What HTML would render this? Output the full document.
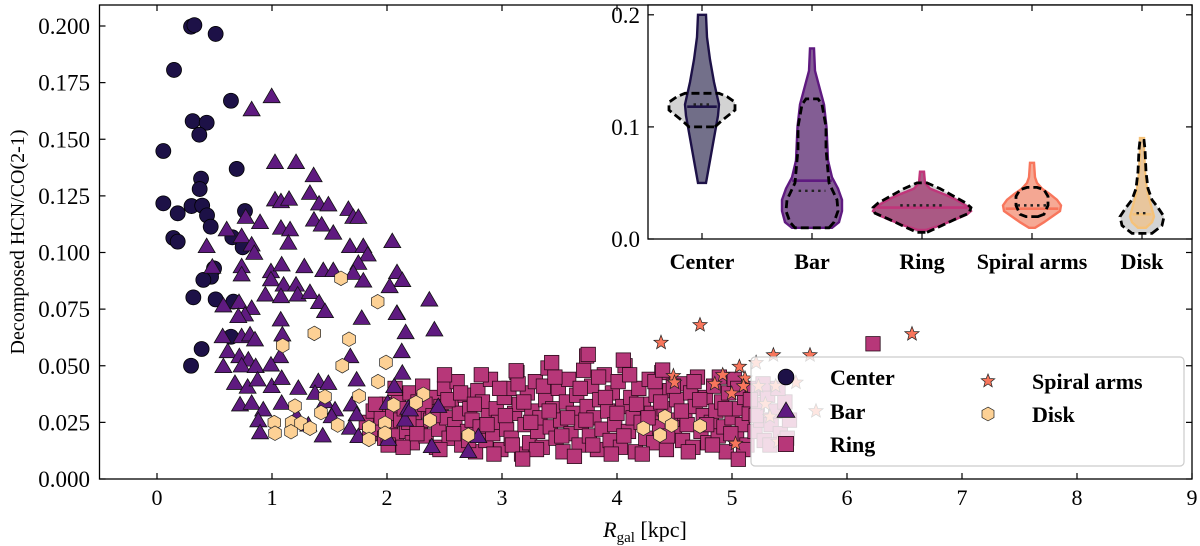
<!DOCTYPE html>
<html><head><meta charset="utf-8"><style>
html,body{margin:0;padding:0;background:#fff;}
svg{display:block;}
text{font-family:"Liberation Serif",serif;fill:#000;}
</style></head><body>
<svg id="chart" width="1200" height="546" viewBox="0 0 1200 546" xmlns="http://www.w3.org/2000/svg">
<g id="main"></g>
<g id="inset"></g>
<g id="legend"></g>
</svg>
<script>
// ---- main scatter data ----
const centerX=[0.296,0.325,0.51,0.148,0.643,0.31,0.432,0.368,0.055,0.693,0.383,0.371,0.055,0.30,0.393,0.435,0.18,0.765,0.467,0.142,0.18,0.655,0.745,0.496,0.47,0.403,0.316,0.51,0.664,0.643,0.388,0.296];
const centerY=[0.1997,0.2004,0.1965,0.1806,0.167,0.158,0.1573,0.152,0.1448,0.1369,0.1326,0.128,0.1217,0.1205,0.1207,0.1164,0.1173,0.1183,0.1114,0.1064,0.1048,0.1067,0.1023,0.093,0.0893,0.0879,0.0802,0.0793,0.0783,0.0628,0.0574,0.05];
const barX=[0.997,0.823,1.026,1.209,1.362,1.330,1.026,1.078,1.148,1.409,1.490,1.664,1.707,1.751,0.771,0.896,1.078,1.157,1.365,1.432,1.533,0.606,0.736,0.823,0.846,1.142,0.432,1.678,1.794,1.832,2.046,1.751,2.087,2.133,0.481,0.736,0.736,0.991,1.084,0.991,1.281,1.446,1.533,1.707,1.794,1.101,1.209,0.942,1.078,1.223,1.330,1.409,1.461,2.023,2.368,0.577,0.713,0.823,0.765,0.707,1.076,1.780,2.087,1.090,0.571,0.736,0.809,0.852,2.162,2.412,0.615,0.716,0.794,1.07,1.681,2.128,0.577,0.736,0.858,0.991,0.678,0.788,0.875,0.997,1.084,1.229,1.403,1.490,1.736,2.063,2.133,0.722,0.823,0.924,1.084,1.374,1.461,1.548,1.693,1.736,2.006,2.185,0.881,1.215,1.316,1.519,1.678,0.896,1.441,1.751,2.011,2.389,2.707,2.157,2.794,2.446,2.2,2.084];
const barY=[0.1688,0.163,0.1397,0.1397,0.1339,0.1261,0.1232,0.1224,0.1235,0.1214,0.1210,0.119,0.1155,0.1155,0.1155,0.1132,0.1107,0.11,0.1143,0.1121,0.1085,0.11,0.107,0.1033,0.0996,0.1041,0.1026,0.1026,0.1026,0.0989,0.1048,0.0952,0.0911,0.0876,0.0935,0.0937,0.0901,0.0915,0.0945,0.0879,0.0937,0.092,0.092,0.0908,0.0874,0.0856,0.0856,0.0812,0.0805,0.0812,0.0823,0.0779,0.0739,0.0849,0.079,0.0764,0.0779,0.0753,0.0724,0.0717,0.0702,0.0709,0.0731,0.0636,0.0628,0.0628,0.0636,0.0614,0.0646,0.0658,0.0562,0.054,0.0525,0.054,0.054,0.0562,0.0496,0.0499,0.0496,0.0503,0.0422,0.0405,0.0437,0.0408,0.0444,0.04,0.043,0.0422,0.0437,0.0408,0.0467,0.0327,0.0334,0.0305,0.0334,0.0378,0.0341,0.0305,0.0327,0.0283,0.0334,0.0312,0.0257,0.0275,0.0238,0.0275,0.0224,0.0204,0.019,0.0187,0.0175,0.0143,0.0121,0.026,0.0187,0.032,0.0305,0.073];
const ringX=[1.82,1.85,1.88,1.92,1.95,1.98,2.00,2.03,2.05,2.08,2.10,2.12,2.15,2.17,2.20,2.22,2.24,2.27,2.29,2.31,2.34,2.36,2.38,2.41,2.43,2.45,2.47,2.50,2.52,2.54,2.56,2.59,2.61,2.63,2.65,2.68,2.70,2.72,2.74,2.77,2.79,2.81,2.83,2.86,2.88,2.90,2.92,2.95,2.97,2.99,3.02,3.04,3.06,3.08,3.11,3.13,3.15,3.17,3.20,3.22,3.24,3.26,3.29,3.31,3.33,3.35,3.38,3.40,3.42,3.44,3.47,3.49,3.51,3.53,3.56,3.58,3.60,3.62,3.65,3.67,3.69,3.71,3.74,3.76,3.78,3.80,3.83,3.85,3.87,3.89,3.92,3.94,3.96,3.98,4.01,4.03,4.05,4.07,4.10,4.12,4.14,4.16,4.19,4.21,4.23,4.25,4.28,4.30,4.32,4.34,4.37,4.39,4.41,4.43,4.46,4.48,4.50,4.52,4.55,4.57,4.59,4.61,4.64,4.66,4.68,4.70,4.73,4.75,4.77,4.79,4.82,4.84,4.86,4.88,4.91,4.93,4.95,4.97,5.00,5.02,5.04,5.06,5.09,5.11,5.13,5.15,5.18,5.20,5.22,5.25,5.28,5.31,5.34,5.38,5.42,5.46,5.50,
1.90,2.01,2.07,2.14,2.19,2.26,2.33,2.40,2.46,2.53,2.58,2.64,2.71,2.76,2.82,2.87,2.93,2.98,3.03,3.09,3.14,3.19,3.25,3.30,3.36,3.41,3.46,3.52,3.57,3.63,3.68,3.73,3.79,3.84,3.90,3.95,4.00,4.06,4.11,4.17,4.22,4.27,4.33,4.38,4.44,4.49,4.56,4.62,4.67,4.72,4.78,4.83,4.89,4.94,4.99,5.05,5.10,5.16,5.21,5.27,5.33,5.40,5.48,
3.736,3.432,4.055,4.397,3.123,5.055,3.18,6.226,3.75,2.5];
const ringY=[.025,.020,.030,.022,.027,.018,.033,.024,.029,.019,.036,.026,.031,.021,.038,.016,.028,.034,.023,.041,.019,.030,.026,.036,.014,.022,.032,.040,.027,.018,.034,.024,.043,.029,.015,.037,.021,.031,.026,.012,.039,.023,.034,.017,.028,.044,.020,.031,.025,.013,.036,.022,.040,.018,.029,.047,.033,.011,.024,.038,.016,.030,.043,.021,.027,.014,.035,.049,.023,.031,.018,.040,.026,.012,.034,.044,.020,.029,.037,.015,.025,.048,.032,.019,.041,.027,.013,.035,.022,.046,.030,.017,.038,.024,.043,.014,.032,.050,.021,.036,.027,.012,.040,.025,.033,.018,.044,.029,.016,.037,.023,.047,.031,.013,.039,.026,.020,.035,.042,.017,.029,.024,.038,.014,.032,.045,.021,.028,.036,.016,.025,.041,.030,.019,.034,.023,.012,.038,.027,.044,.018,.031,.024,.036,.015,.029,.040,.021,.033,.026,.017,.037,.024,.030,.020,.034,.026,
.033,.015,.040,.014,.025,.020,.033,.028,.013,.035,.020,.038,.017,.033,.046,.024,.011,.040,.028,.015,.042,.034,.025,.013,.041,.030,.045,.019,.027,.010,.040,.026,.015,.045,.036,.011,.029,.019,.046,.033,.011,.027,.043,.034,.019,.041,.030,.012,.043,.035,.024,.015,.045,.031,.020,.040,.013,.035,.028,.042,.015,.040,.018,
.0543,.0514,.0525,.0481,.0478,.0087,.0088,.0597,.055,.046];
const spiralX=[4.383,4.722,5.36,5.678,5.064,4.919,4.49,5.113,4.997,4.85,6.565,5.21,5.23,5.38,5.556,5.29,5.33,5.73,5.4,5.03,5.1,4.5];
const spiralY=[0.0602,0.068,0.0547,0.0547,0.0496,0.0459,0.0455,0.0444,0.0378,0.042,0.064,0.0513,0.041,0.041,0.0426,0.0331,0.0275,0.030,0.0164,0.0156,0.041,0.0426];
const diskX=[1.6,1.919,1.368,1.67,1.093,1.611,1.991,1.922,1.461,1.757,2.058,2.316,2.252,1.2,1.426,1.02,1.171,1.252,1.33,1.026,1.165,1.571,1.843,1.843,1.983,1.983,2.374,2.707,4.229,4.417,4.475,4.374,4.722];
const diskY=[0.0886,0.0783,0.0643,0.0617,0.0589,0.05,0.0515,0.043,0.0363,0.0366,0.0327,0.0374,0.0337,0.0322,0.0293,0.0249,0.0249,0.0246,0.0224,0.0202,0.0209,0.0238,0.0228,0.0175,0.0246,0.0202,0.026,0.0194,0.0224,0.0275,0.0238,0.0194,0.0234];
const xTicks=[0,1,2,3,4,5,6,7,8,9];
const yTicks=[0,0.025,0.05,0.075,0.1,0.125,0.15,0.175,0.2];
// ---- inset violin data: [value, half-width in px] ----
const catNames=["Center","Bar","Ring","Spiral arms","Disk"];
const violinCenter=[[0.05,4],[0.07,8],[0.09,12],[0.11,16],[0.12,17],[0.14,12],[0.16,8],[0.18,5],[0.2,4]];
const violinBar=[[0.01,20],[0.015,27],[0.025,30],[0.035,30],[0.045,26],[0.055,20],[0.07,16],[0.1,14.5],[0.12,12],[0.13,9],[0.14,6],[0.15,3],[0.17,2]];
const violinRing=[[0.008,4],[0.012,18],[0.018,35],[0.022,45],[0.025,49],[0.028,47],[0.032,40],[0.036,32],[0.04,22],[0.045,8],[0.05,3],[0.06,2]];
const violinSpiral=[[0.01,3],[0.015,12],[0.02,20],[0.025,28],[0.03,29],[0.035,25],[0.04,18],[0.045,10],[0.05,5],[0.055,3],[0.068,2]];
const violinDisk=[[0.01,4],[0.015,10],[0.02,12],[0.03,9],[0.04,6],[0.05,4],[0.06,3],[0.08,2],[0.09,2]];
const dashCenter=[[0.1,13],[0.105,19],[0.11,26],[0.115,33],[0.122,33],[0.127,25],[0.13,17]];
const dashBar=[[0.01,17],[0.015,22],[0.025,26],[0.035,25],[0.05,17],[0.08,14],[0.1,14],[0.12,10],[0.125,6]];
const dashRing=[[0.006,5],[0.01,15],[0.018,34],[0.023,47],[0.028,49],[0.032,44],[0.038,32],[0.045,18],[0.05,5]];
const dashSpiral=[[0.02,6],[0.022,12],[0.03,16],[0.038,16],[0.044,12],[0.046,5]];
const dashDisk=[[0.005,10],[0.012,20],[0.02,22],[0.028,16],[0.035,10],[0.045,6],[0.06,4],[0.08,3],[0.088,2]];
const medians=[0.118,0.052,0.028,0.027,0.022];
const means=[0.12,0.043,0.030,0.030,0.023];
const insetTicks=[0,0.1,0.2];

const NS="http://www.w3.org/2000/svg";
function mk(tag,attrs,parent){const el=document.createElementNS(NS,tag);for(const k in attrs)el.setAttribute(k,attrs[k]);parent.appendChild(el);return el;}
const L=99.5,R=1192,T=5,B=479;
const X=v=>157+v*115;
const Y=v=>479-v*2265;
const main=document.getElementById('main');
let el;
el=mk('rect',{x:L,y:T,width:R-L,height:B-T,fill:'#fff'},main);



const COL={center:'#1d1147',bar:'#5f1a80',ring:'#b73779',spiral:'#f8765c',disk:'#fdd195'};
function star(cx,cy,ro,ri){let p=[];for(let i=0;i<10;i++){const a=-Math.PI/2+i*Math.PI/5;const r=i%2?ri:ro;p.push((cx+r*Math.cos(a)).toFixed(1)+','+(cy+r*Math.sin(a)).toFixed(1));}return p.join(' ');}
function hex(cx,cy,r){let p=[];for(let i=0;i<6;i++){const a=-Math.PI/2+i*Math.PI/3;p.push((cx+r*Math.cos(a)).toFixed(1)+','+(cy+r*Math.sin(a)).toFixed(1));}return p.join(' ');}
function drawMarker(g,kind,px,py,s){
  let e;
  if(kind==='center') e=mk('circle',{cx:px,cy:py,r:7.5*s,fill:COL.center,stroke:'#000','stroke-width':0.8},g);
  else if(kind==='bar') e=mk('polygon',{points:`${px},${py-8.5*s} ${px-8.5*s},${py+6*s} ${px+8.5*s},${py+6*s}`,fill:COL.bar,stroke:'#111','stroke-width':0.8},g);
  else if(kind==='ring') e=mk('rect',{x:px-7.2*s,y:py-7.2*s,width:14.4*s,height:14.4*s,fill:COL.ring,stroke:'#2a0a1a','stroke-width':0.8},g);
  else if(kind==='spiral') e=mk('polygon',{points:star(px,py,7.5*s,3.2*s),fill:COL.spiral,stroke:'#222','stroke-width':0.7},g);
  else e=mk('polygon',{points:hex(px,py,7.3*s),fill:COL.disk,stroke:'#222','stroke-width':0.7},g);
  return e;
}
function series(name,kind,xs,ys){
  const g=mk('g',{},main);
  
  
  for(let i=0;i<xs.length;i++){
    const m=drawMarker(g,kind,X(xs[i]),Y(ys[i]),1);
    
    
  }
}
series('ring','ring',ringX,ringY);
series('spiral-arms','spiral',spiralX,spiralY);
series('center','center',centerX,centerY);
series('bar','bar',barX,barY);
series('disk','disk',diskX,diskY);

el=mk('rect',{x:L,y:T,width:R-L,height:B-T,fill:'none',stroke:'#000','stroke-width':1.3},main);


xTicks.forEach(t=>{
  const px=X(t);
  el=mk('line',{x1:px,x2:px,y1:B,y2:B-6,stroke:'#000','stroke-width':1.2},main);
  
  
  el=mk('line',{x1:px,x2:px,y1:T,y2:T+6,stroke:'#000','stroke-width':1.2},main);
  
  
  el=mk('text',{x:px,y:505,'font-size':22,'text-anchor':'middle'},main);
  el.textContent=String(t);
  
  
});
yTicks.forEach(t=>{
  const py=Y(t);
  el=mk('line',{x1:L,x2:L+6,y1:py,y2:py,stroke:'#000','stroke-width':1.2},main);
  
  
  el=mk('line',{x1:R,x2:R-6,y1:py,y2:py,stroke:'#000','stroke-width':1.2},main);
  
  
  el=mk('text',{x:90,y:py+8,'font-size':23,'text-anchor':'end'},main);
  el.textContent=t.toFixed(3);
  
  
});
el=mk('text',{x:645,y:537,'font-size':22,'text-anchor':'middle'},main);
el.innerHTML='<tspan font-style="italic">R</tspan><tspan font-size="15" dy="5">gal</tspan><tspan dy="-5"> [kpc]</tspan>';


el=mk('text',{x:0,y:0,'font-size':20,'text-anchor':'middle',transform:'translate(24,242) rotate(-90)'},main);
el.textContent='Decomposed HCN/CO(2-1)';



// ---- inset ----
const inset=document.getElementById('inset');
const IL=648,IR=1192,IT=5,IB=239;
const CX=i=>702+i*110;
const IY=v=>239-v*1121;
el=mk('rect',{x:IL,y:IT,width:IR-IL,height:IB-IT,fill:'#fff'},inset);


function vpath(i,prof){
  const c=CX(i);let right=[],left=[];
  prof.forEach(p=>{right.push((c+p[1]).toFixed(1)+','+IY(p[0]).toFixed(1));});
  for(let k=prof.length-1;k>=0;k--){left.push((c-prof[k][1]).toFixed(1)+','+IY(prof[k][0]).toFixed(1));}
  return 'M'+right.join(' L')+' L'+left.join(' L')+' Z';
}
const violins=[violinCenter,violinBar,violinRing,violinSpiral,violinDisk];
const dashes=[dashCenter,dashBar,dashRing,dashSpiral,dashDisk];
const vfill=['#6c6884','#7e5690','#a8527f','#f6a48f','#e9c59a'];
const vedge=['#1d1147','#5f1a80','#c0357a','#f8765c','#f5c27a'];
const slug=['center','bar','ring','spiral-arms','disk'];
for(let i=0;i<5;i++){
  el=mk('path',{d:vpath(i,dashes[i]),fill:'#d3d3d3',stroke:'none'},inset);
  
  
  el=mk('path',{d:vpath(i,violins[i]),fill:vfill[i],stroke:vedge[i],'stroke-width':2.4,'fill-opacity':0.95},inset);
  
  
  const hw=v=>{const p=violins[i];for(let k=1;k<p.length;k++){if(v<=p[k][0]){const a=p[k-1],b=p[k];return a[1]+(b[1]-a[1])*(v-a[0])/(b[0]-a[0]);}}return 2;};
  const m=medians[i],mn=means[i];
  el=mk('line',{x1:CX(i)-hw(m)+2,x2:CX(i)+hw(m)-2,y1:IY(m),y2:IY(m),stroke:vedge[i],'stroke-width':2.6},inset);
  
  
  el=mk('line',{x1:CX(i)-hw(mn)*0.5,x2:CX(i)+hw(mn)*0.5,y1:IY(mn),y2:IY(mn),stroke:'#222','stroke-width':2.4,'stroke-dasharray':'2.5,4'},inset);
  
  
  el=mk('path',{d:vpath(i,dashes[i]),fill:'none',stroke:'#000','stroke-width':2.8,'stroke-dasharray':'8,4'},inset);
  
  
  el=mk('text',{x:CX(i),y:269,'font-size':22,'font-weight':'bold','text-anchor':'middle'},inset);
  el.textContent=catNames[i];
  
  
  el=mk('line',{x1:CX(i),x2:CX(i),y1:IB,y2:IB-6,stroke:'#000','stroke-width':1.2},inset);
  
  
  el=mk('line',{x1:CX(i),x2:CX(i),y1:IT,y2:IT+6,stroke:'#000','stroke-width':1.2},inset);
  
  
}
el=mk('rect',{x:IL,y:IT,width:IR-IL,height:IB-IT,fill:'none',stroke:'#000','stroke-width':1.3},inset);


insetTicks.forEach(t=>{
  const py=IY(t);
  el=mk('line',{x1:IL,x2:IL+6,y1:py,y2:py,stroke:'#000','stroke-width':1.2},inset);
  
  
  el=mk('line',{x1:IR,x2:IR-6,y1:py,y2:py,stroke:'#000','stroke-width':1.2},inset);
  
  
  el=mk('text',{x:640,y:py+8,'font-size':23,'text-anchor':'end'},inset);
  el.textContent=t.toFixed(1);
  
  
});

// ---- legend ----
const lg=document.getElementById('legend');
el=mk('rect',{x:751,y:357,width:433,height:109,rx:4,fill:'#fff','fill-opacity':0.82,stroke:'#ccc','stroke-width':1.2},lg);


const legItems=[['center','Center',786,377],['bar','Bar',786,411],['ring','Ring',786,444],['spiral','Spiral arms',988,381],['disk','Disk',988,414]];
legItems.forEach(it=>{
  const g=mk('g',{},lg);
  
  
  drawMarker(g,it[0],it[2],it[3],it[0]==='spiral'||it[0]==='disk'?0.95:1.05);
  const t=mk('text',{x:it[2]+44,y:it[3]+8,'font-size':22,'font-weight':'bold'},g);
  t.textContent=it[1];
});
</script>
</body></html>
